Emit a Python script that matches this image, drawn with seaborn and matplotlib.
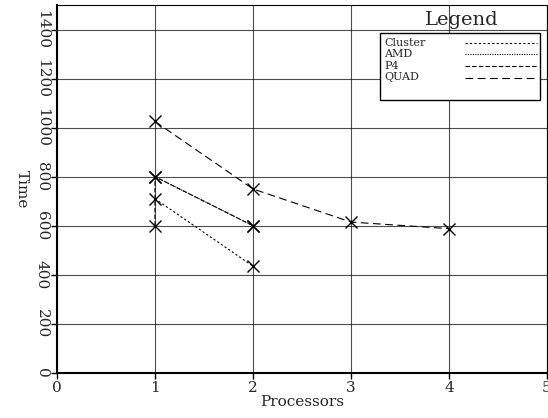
import seaborn as sns
import matplotlib.pyplot as plt
from matplotlib.lines import Line2D
from matplotlib.patches import Rectangle
import pandas as pd

# data
cluster_x = [1, 2]
cluster_y = [710, 435]
amd_x = [1, 2]
amd_y = [800, 600]
p4_x = [1, 1, 2]
p4_y = [600, 800, 600]
quad_x = [1, 2, 3, 4]
quad_y = [1025, 750, 615, 588]

series = {
    'Cluster': (cluster_x, cluster_y, (2, 2)),
    'AMD': (amd_x, amd_y, (1, 1.2)),
    'P4': (p4_x, p4_y, (4, 2)),
    'QUAD': (quad_x, quad_y, (7, 4)),
}

sns.set_style('white')
plt.rcParams['font.family'] = ['DejaVu Serif']

W, H = 548, 418
fig = plt.figure(figsize=(W / 100, H / 100), dpi=100)
ax = fig.add_axes([0.104, 0.108, 0.894, 0.88])

for name, (xs, ys, dash) in series.items():
    df = pd.DataFrame({'x': xs, 'y': ys})
    sns.lineplot(data=df, x='x', y='y', ax=ax, sort=False, estimator=None,
                 color='black', linewidth=0.8, marker='x', markersize=8,
                 markeredgewidth=1.0, markeredgecolor='black', dashes=False,
                 linestyle=(0, dash), legend=False)

ax.set_xlim(0, 5)
ax.set_ylim(0, 1500)
ax.set_xticks(range(6))
ax.set_yticks(range(0, 1401, 200))
ax.grid(True, color='black', linewidth=0.8, alpha=0.7)
ax.tick_params(axis='both', direction='out', length=4, width=1, labelsize=11,
               left=True, bottom=True, color='black', pad=2)
for lab in ax.get_yticklabels():
    lab.set_rotation(-90)
    lab.set_va('center')
for s in ax.spines.values():
    s.set_color('black')
ax.spines['left'].set_linewidth(1.5)
ax.spines['bottom'].set_linewidth(1.5)
ax.spines['top'].set_linewidth(0.8)
ax.spines['right'].set_linewidth(0.8)

ax.set_xlabel('Processors', fontsize=11, labelpad=0)
ax.set_ylabel('Time', fontsize=11, rotation=-90, labelpad=14)

# legend drawn by hand: title above a box, labels left, line samples right
def fx(px):
    return px / W

def fy(py):
    return 1 - py / H

fig.text(fx(462), fy(20), 'Legend', fontsize=14, ha='center', va='center')
fig.add_artist(Rectangle((fx(380), fy(100)), fx(540) - fx(380), fy(33) - fy(100),
                         transform=fig.transFigure, fill=True, facecolor='white',
                         edgecolor='black', linewidth=1.0))
for i, (name, (_, _, dash)) in enumerate(series.items()):
    yy = fy(43 + i * 11.5)
    fig.text(fx(384), yy, name, fontsize=8, ha='left', va='center')
    fig.add_artist(Line2D([fx(465), fx(537)], [yy, yy], transform=fig.transFigure,
                          color='black', linewidth=0.8, linestyle=(0, dash)))

fig.savefig('out.png', dpi=100)
